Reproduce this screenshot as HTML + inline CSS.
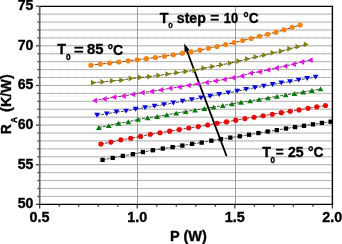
<!DOCTYPE html>
<html><head><meta charset="utf-8"><style>
html,body{margin:0;padding:0;background:#fff;}
body{width:342px;height:244px;position:relative;overflow:hidden;}
svg text{font-family:"Liberation Sans",sans-serif;font-weight:bold;}
</style></head><body>
<svg width="342" height="244" viewBox="0 0 342 244" style="position:absolute;left:0;top:0">
<g stroke="#d4d4d4" stroke-width="1"><line x1="39.70" y1="196.40" x2="332.39" y2="196.40"/><line x1="39.70" y1="188.47" x2="332.39" y2="188.47"/><line x1="39.70" y1="180.55" x2="332.39" y2="180.55"/><line x1="39.70" y1="172.62" x2="332.39" y2="172.62"/><line x1="39.70" y1="156.77" x2="332.39" y2="156.77"/><line x1="39.70" y1="148.85" x2="332.39" y2="148.85"/><line x1="39.70" y1="140.92" x2="332.39" y2="140.92"/><line x1="39.70" y1="133.00" x2="332.39" y2="133.00"/><line x1="39.70" y1="117.15" x2="332.39" y2="117.15"/><line x1="39.70" y1="109.22" x2="332.39" y2="109.22"/><line x1="39.70" y1="101.30" x2="332.39" y2="101.30"/><line x1="39.70" y1="93.38" x2="332.39" y2="93.38"/><line x1="39.70" y1="77.53" x2="332.39" y2="77.53"/><line x1="39.70" y1="69.60" x2="332.39" y2="69.60"/><line x1="39.70" y1="61.68" x2="332.39" y2="61.68"/><line x1="39.70" y1="53.75" x2="332.39" y2="53.75"/><line x1="39.70" y1="37.90" x2="332.39" y2="37.90"/><line x1="39.70" y1="29.97" x2="332.39" y2="29.97"/><line x1="39.70" y1="22.05" x2="332.39" y2="22.05"/><line x1="39.70" y1="14.12" x2="332.39" y2="14.12"/></g>
<g stroke="#989898" stroke-width="1" stroke-dasharray="1 1"><line x1="39.70" y1="196.40" x2="332.39" y2="196.40"/><line x1="39.70" y1="188.47" x2="332.39" y2="188.47"/><line x1="39.70" y1="180.55" x2="332.39" y2="180.55"/><line x1="39.70" y1="172.62" x2="332.39" y2="172.62"/><line x1="39.70" y1="156.77" x2="332.39" y2="156.77"/><line x1="39.70" y1="148.85" x2="332.39" y2="148.85"/><line x1="39.70" y1="140.92" x2="332.39" y2="140.92"/><line x1="39.70" y1="133.00" x2="332.39" y2="133.00"/><line x1="39.70" y1="117.15" x2="332.39" y2="117.15"/><line x1="39.70" y1="109.22" x2="332.39" y2="109.22"/><line x1="39.70" y1="101.30" x2="332.39" y2="101.30"/><line x1="39.70" y1="93.38" x2="332.39" y2="93.38"/><line x1="39.70" y1="77.53" x2="332.39" y2="77.53"/><line x1="39.70" y1="69.60" x2="332.39" y2="69.60"/><line x1="39.70" y1="61.68" x2="332.39" y2="61.68"/><line x1="39.70" y1="53.75" x2="332.39" y2="53.75"/><line x1="39.70" y1="37.90" x2="332.39" y2="37.90"/><line x1="39.70" y1="29.97" x2="332.39" y2="29.97"/><line x1="39.70" y1="22.05" x2="332.39" y2="22.05"/><line x1="39.70" y1="14.12" x2="332.39" y2="14.12"/></g>
<g stroke="#a8a8a8" stroke-width="1"><line x1="39.70" y1="164.70" x2="332.39" y2="164.70"/><line x1="39.70" y1="125.08" x2="332.39" y2="125.08"/><line x1="39.70" y1="85.45" x2="332.39" y2="85.45"/><line x1="39.70" y1="45.83" x2="332.39" y2="45.83"/></g>
<g stroke="#a0a0a0" stroke-width="1"><line x1="137.50" y1="6.35" x2="137.50" y2="204.40"/><line x1="235.50" y1="6.35" x2="235.50" y2="204.40"/></g>
<line x1="226.6" y1="156.1" x2="187.0" y2="51.0" stroke="#000" stroke-width="1.8"/>
<polygon points="184.2,43.6 189.6,50.0 184.6,52.2" fill="#000"/>
<path d="M90.86,65.21 L100.26,64.09 L109.60,63.01 L118.89,62.07 L128.11,60.85 L137.28,59.69 L146.39,58.63 L155.44,57.45 L164.43,56.20 L173.36,54.82 L182.23,53.27 L191.05,51.88 L199.80,50.16 L208.50,48.26 L217.13,46.45 L225.71,44.59 L234.23,42.57 L242.69,40.54 L251.09,38.46 L259.43,36.30 L267.71,34.25 L275.93,32.15 L284.10,29.84 L292.20,27.32 L300.25,25.04" fill="none" stroke="#333" stroke-width="0.9" stroke-dasharray="3 1"/>
<circle cx="90.86" cy="65.21" r="2.55" fill="#ff8000"/><circle cx="100.26" cy="64.09" r="2.55" fill="#ff8000"/><circle cx="109.60" cy="63.01" r="2.55" fill="#ff8000"/><circle cx="118.89" cy="62.07" r="2.55" fill="#ff8000"/><circle cx="128.11" cy="60.85" r="2.55" fill="#ff8000"/><circle cx="137.28" cy="59.69" r="2.55" fill="#ff8000"/><circle cx="146.39" cy="58.63" r="2.55" fill="#ff8000"/><circle cx="155.44" cy="57.45" r="2.55" fill="#ff8000"/><circle cx="164.43" cy="56.20" r="2.55" fill="#ff8000"/><circle cx="173.36" cy="54.82" r="2.55" fill="#ff8000"/><circle cx="182.23" cy="53.27" r="2.55" fill="#ff8000"/><circle cx="191.05" cy="51.88" r="2.55" fill="#ff8000"/><circle cx="199.80" cy="50.16" r="2.55" fill="#ff8000"/><circle cx="208.50" cy="48.26" r="2.55" fill="#ff8000"/><circle cx="217.13" cy="46.45" r="2.55" fill="#ff8000"/><circle cx="225.71" cy="44.59" r="2.55" fill="#ff8000"/><circle cx="234.23" cy="42.57" r="2.55" fill="#ff8000"/><circle cx="242.69" cy="40.54" r="2.55" fill="#ff8000"/><circle cx="251.09" cy="38.46" r="2.55" fill="#ff8000"/><circle cx="259.43" cy="36.30" r="2.55" fill="#ff8000"/><circle cx="267.71" cy="34.25" r="2.55" fill="#ff8000"/><circle cx="275.93" cy="32.15" r="2.55" fill="#ff8000"/><circle cx="284.10" cy="29.84" r="2.55" fill="#ff8000"/><circle cx="292.20" cy="27.32" r="2.55" fill="#ff8000"/><circle cx="300.25" cy="25.04" r="2.55" fill="#ff8000"/>
<path d="M93.44,82.67 L102.95,81.88 L112.40,80.85 L121.80,80.18 L131.14,78.49 L140.43,77.47 L149.66,76.65 L158.83,75.41 L167.95,74.09 L177.01,72.68 L186.02,71.51 L194.97,70.25 L203.87,68.16 L212.70,66.60 L221.49,64.82 L230.21,63.06 L238.88,61.08 L247.50,58.91 L256.06,56.96 L264.56,55.09 L273.01,52.82 L281.40,51.14 L289.74,48.76 L298.01,46.65 L306.24,44.42" fill="none" stroke="#333" stroke-width="0.9" stroke-dasharray="3 1"/>
<polygon points="95.89,82.67 90.99,79.77 90.99,85.57" fill="#808000"/><polygon points="105.40,81.88 100.50,78.98 100.50,84.78" fill="#808000"/><polygon points="114.85,80.85 109.95,77.95 109.95,83.75" fill="#808000"/><polygon points="124.25,80.18 119.35,77.28 119.35,83.08" fill="#808000"/><polygon points="133.59,78.49 128.69,75.59 128.69,81.39" fill="#808000"/><polygon points="142.88,77.47 137.98,74.57 137.98,80.37" fill="#808000"/><polygon points="152.11,76.65 147.21,73.75 147.21,79.55" fill="#808000"/><polygon points="161.28,75.41 156.38,72.51 156.38,78.31" fill="#808000"/><polygon points="170.40,74.09 165.50,71.19 165.50,76.99" fill="#808000"/><polygon points="179.46,72.68 174.56,69.78 174.56,75.58" fill="#808000"/><polygon points="188.47,71.51 183.57,68.61 183.57,74.41" fill="#808000"/><polygon points="197.42,70.25 192.52,67.35 192.52,73.15" fill="#808000"/><polygon points="206.32,68.16 201.42,65.26 201.42,71.06" fill="#808000"/><polygon points="215.15,66.60 210.25,63.70 210.25,69.50" fill="#808000"/><polygon points="223.94,64.82 219.04,61.92 219.04,67.72" fill="#808000"/><polygon points="232.66,63.06 227.76,60.16 227.76,65.96" fill="#808000"/><polygon points="241.33,61.08 236.43,58.18 236.43,63.98" fill="#808000"/><polygon points="249.95,58.91 245.05,56.01 245.05,61.81" fill="#808000"/><polygon points="258.51,56.96 253.61,54.06 253.61,59.86" fill="#808000"/><polygon points="267.01,55.09 262.11,52.19 262.11,57.99" fill="#808000"/><polygon points="275.46,52.82 270.56,49.92 270.56,55.72" fill="#808000"/><polygon points="283.85,51.14 278.95,48.24 278.95,54.04" fill="#808000"/><polygon points="292.19,48.76 287.29,45.86 287.29,51.66" fill="#808000"/><polygon points="300.46,46.65 295.56,43.75 295.56,49.55" fill="#808000"/><polygon points="308.69,44.42 303.79,41.52 303.79,47.32" fill="#808000"/>
<path d="M94.62,100.59 L104.23,98.95 L113.80,97.15 L123.30,96.01 L132.76,94.38 L142.15,92.64 L151.49,91.45 L160.78,89.91 L170.01,88.33 L179.18,87.03 L188.30,85.40 L197.37,83.80 L206.37,82.40 L215.33,80.96 L224.22,79.45 L233.07,77.77 L241.85,76.00 L250.58,73.15 L259.26,71.81 L267.88,69.95 L276.44,68.01 L284.95,66.14 L293.40,64.13 L301.80,61.99 L310.15,60.18" fill="none" stroke="#333" stroke-width="0.9" stroke-dasharray="3 1"/>
<polygon points="92.17,100.59 97.07,97.69 97.07,103.49" fill="#ff00ff"/><polygon points="101.78,98.95 106.68,96.05 106.68,101.85" fill="#ff00ff"/><polygon points="111.35,97.15 116.25,94.25 116.25,100.05" fill="#ff00ff"/><polygon points="120.85,96.01 125.75,93.11 125.75,98.91" fill="#ff00ff"/><polygon points="130.31,94.38 135.21,91.48 135.21,97.28" fill="#ff00ff"/><polygon points="139.70,92.64 144.60,89.74 144.60,95.54" fill="#ff00ff"/><polygon points="149.04,91.45 153.94,88.55 153.94,94.35" fill="#ff00ff"/><polygon points="158.33,89.91 163.23,87.01 163.23,92.81" fill="#ff00ff"/><polygon points="167.56,88.33 172.46,85.43 172.46,91.23" fill="#ff00ff"/><polygon points="176.73,87.03 181.63,84.13 181.63,89.93" fill="#ff00ff"/><polygon points="185.85,85.40 190.75,82.50 190.75,88.30" fill="#ff00ff"/><polygon points="194.92,83.80 199.82,80.90 199.82,86.70" fill="#ff00ff"/><polygon points="203.92,82.40 208.82,79.50 208.82,85.30" fill="#ff00ff"/><polygon points="212.88,80.96 217.78,78.06 217.78,83.86" fill="#ff00ff"/><polygon points="221.77,79.45 226.67,76.55 226.67,82.35" fill="#ff00ff"/><polygon points="230.62,77.77 235.52,74.87 235.52,80.67" fill="#ff00ff"/><polygon points="239.40,76.00 244.30,73.10 244.30,78.90" fill="#ff00ff"/><polygon points="248.13,73.15 253.03,70.25 253.03,76.05" fill="#ff00ff"/><polygon points="256.81,71.81 261.71,68.91 261.71,74.71" fill="#ff00ff"/><polygon points="265.43,69.95 270.33,67.05 270.33,72.85" fill="#ff00ff"/><polygon points="273.99,68.01 278.89,65.11 278.89,70.91" fill="#ff00ff"/><polygon points="282.50,66.14 287.40,63.24 287.40,69.04" fill="#ff00ff"/><polygon points="290.95,64.13 295.85,61.23 295.85,67.03" fill="#ff00ff"/><polygon points="299.35,61.99 304.25,59.09 304.25,64.89" fill="#ff00ff"/><polygon points="307.70,60.18 312.60,57.28 312.60,63.08" fill="#ff00ff"/>
<path d="M97.09,115.26 L106.80,113.84 L116.46,112.02 L126.07,111.09 L135.63,109.22 L145.13,107.62 L154.58,106.15 L163.97,104.60 L173.32,103.03 L182.61,101.30 L191.84,99.63 L201.03,98.01 L210.16,96.29 L219.24,94.54 L228.27,92.86 L237.24,91.14 L246.17,89.33 L255.03,87.69 L263.85,86.28 L272.62,84.46 L281.33,82.87 L289.98,81.65 L298.59,80.10 L307.14,78.46 L315.64,77.16" fill="none" stroke="#333" stroke-width="0.9" stroke-dasharray="3 1"/>
<polygon points="97.09,117.71 99.99,112.81 94.19,112.81" fill="#0000ff"/><polygon points="106.80,116.29 109.70,111.39 103.90,111.39" fill="#0000ff"/><polygon points="116.46,114.47 119.36,109.57 113.56,109.57" fill="#0000ff"/><polygon points="126.07,113.54 128.97,108.64 123.17,108.64" fill="#0000ff"/><polygon points="135.63,111.67 138.53,106.77 132.73,106.77" fill="#0000ff"/><polygon points="145.13,110.07 148.03,105.17 142.23,105.17" fill="#0000ff"/><polygon points="154.58,108.60 157.48,103.70 151.68,103.70" fill="#0000ff"/><polygon points="163.97,107.05 166.87,102.15 161.07,102.15" fill="#0000ff"/><polygon points="173.32,105.48 176.22,100.58 170.42,100.58" fill="#0000ff"/><polygon points="182.61,103.75 185.51,98.85 179.71,98.85" fill="#0000ff"/><polygon points="191.84,102.08 194.74,97.18 188.94,97.18" fill="#0000ff"/><polygon points="201.03,100.46 203.93,95.56 198.13,95.56" fill="#0000ff"/><polygon points="210.16,98.74 213.06,93.84 207.26,93.84" fill="#0000ff"/><polygon points="219.24,96.99 222.14,92.09 216.34,92.09" fill="#0000ff"/><polygon points="228.27,95.31 231.17,90.41 225.37,90.41" fill="#0000ff"/><polygon points="237.24,93.59 240.14,88.69 234.34,88.69" fill="#0000ff"/><polygon points="246.17,91.78 249.07,86.88 243.27,86.88" fill="#0000ff"/><polygon points="255.03,90.14 257.93,85.24 252.13,85.24" fill="#0000ff"/><polygon points="263.85,88.73 266.75,83.83 260.95,83.83" fill="#0000ff"/><polygon points="272.62,86.91 275.52,82.01 269.72,82.01" fill="#0000ff"/><polygon points="281.33,85.32 284.23,80.42 278.43,80.42" fill="#0000ff"/><polygon points="289.98,84.10 292.88,79.20 287.08,79.20" fill="#0000ff"/><polygon points="298.59,82.55 301.49,77.65 295.69,77.65" fill="#0000ff"/><polygon points="307.14,80.91 310.04,76.01 304.24,76.01" fill="#0000ff"/><polygon points="315.64,79.61 318.54,74.71 312.74,74.71" fill="#0000ff"/>
<path d="M98.90,127.50 L108.76,125.65 L118.56,123.18 L128.31,121.80 L138.00,119.42 L147.64,117.80 L157.22,116.49 L166.75,114.78 L176.23,113.11 L185.65,111.59 L195.02,110.04 L204.33,108.55 L213.59,107.14 L222.80,105.54 L231.95,103.91 L241.05,102.32 L250.09,100.90 L259.08,99.33 L268.02,97.90 L276.90,96.34 L285.73,94.88 L294.50,93.44 L303.22,91.97 L311.89,90.51 L320.50,88.92" fill="none" stroke="#333" stroke-width="0.9" stroke-dasharray="3 1"/>
<polygon points="98.90,125.05 101.80,129.95 96.00,129.95" fill="#008000"/><polygon points="108.76,123.20 111.66,128.10 105.86,128.10" fill="#008000"/><polygon points="118.56,120.73 121.46,125.63 115.66,125.63" fill="#008000"/><polygon points="128.31,119.35 131.21,124.25 125.41,124.25" fill="#008000"/><polygon points="138.00,116.97 140.90,121.87 135.10,121.87" fill="#008000"/><polygon points="147.64,115.35 150.54,120.25 144.74,120.25" fill="#008000"/><polygon points="157.22,114.04 160.12,118.94 154.32,118.94" fill="#008000"/><polygon points="166.75,112.33 169.65,117.23 163.85,117.23" fill="#008000"/><polygon points="176.23,110.66 179.13,115.56 173.33,115.56" fill="#008000"/><polygon points="185.65,109.14 188.55,114.04 182.75,114.04" fill="#008000"/><polygon points="195.02,107.59 197.92,112.49 192.12,112.49" fill="#008000"/><polygon points="204.33,106.10 207.23,111.00 201.43,111.00" fill="#008000"/><polygon points="213.59,104.69 216.49,109.59 210.69,109.59" fill="#008000"/><polygon points="222.80,103.09 225.70,107.99 219.90,107.99" fill="#008000"/><polygon points="231.95,101.46 234.85,106.36 229.05,106.36" fill="#008000"/><polygon points="241.05,99.87 243.95,104.77 238.15,104.77" fill="#008000"/><polygon points="250.09,98.45 252.99,103.35 247.19,103.35" fill="#008000"/><polygon points="259.08,96.88 261.98,101.78 256.18,101.78" fill="#008000"/><polygon points="268.02,95.45 270.92,100.35 265.12,100.35" fill="#008000"/><polygon points="276.90,93.89 279.80,98.79 274.00,98.79" fill="#008000"/><polygon points="285.73,92.43 288.63,97.33 282.83,97.33" fill="#008000"/><polygon points="294.50,90.99 297.40,95.89 291.60,95.89" fill="#008000"/><polygon points="303.22,89.52 306.12,94.42 300.32,94.42" fill="#008000"/><polygon points="311.89,88.06 314.79,92.96 308.99,92.96" fill="#008000"/><polygon points="320.50,86.47 323.40,91.37 317.60,91.37" fill="#008000"/>
<path d="M100.93,144.06 L110.91,142.09 L120.84,139.84 L130.71,138.26 L140.53,136.41 L150.29,134.31 L160.00,132.71 L169.66,131.15 L179.26,129.62 L188.80,128.06 L198.30,126.59 L207.73,125.04 L217.12,123.29 L226.45,121.88 L235.72,120.17 L244.95,118.61 L254.11,117.25 L263.23,115.73 L272.29,114.18 L281.29,112.63 L290.24,111.31 L299.14,109.89 L307.98,108.35 L316.77,106.91 L325.51,105.57" fill="none" stroke="#333" stroke-width="0.9" stroke-dasharray="3 1"/>
<circle cx="100.93" cy="144.06" r="2.55" fill="#ff0000"/><circle cx="110.91" cy="142.09" r="2.55" fill="#ff0000"/><circle cx="120.84" cy="139.84" r="2.55" fill="#ff0000"/><circle cx="130.71" cy="138.26" r="2.55" fill="#ff0000"/><circle cx="140.53" cy="136.41" r="2.55" fill="#ff0000"/><circle cx="150.29" cy="134.31" r="2.55" fill="#ff0000"/><circle cx="160.00" cy="132.71" r="2.55" fill="#ff0000"/><circle cx="169.66" cy="131.15" r="2.55" fill="#ff0000"/><circle cx="179.26" cy="129.62" r="2.55" fill="#ff0000"/><circle cx="188.80" cy="128.06" r="2.55" fill="#ff0000"/><circle cx="198.30" cy="126.59" r="2.55" fill="#ff0000"/><circle cx="207.73" cy="125.04" r="2.55" fill="#ff0000"/><circle cx="217.12" cy="123.29" r="2.55" fill="#ff0000"/><circle cx="226.45" cy="121.88" r="2.55" fill="#ff0000"/><circle cx="235.72" cy="120.17" r="2.55" fill="#ff0000"/><circle cx="244.95" cy="118.61" r="2.55" fill="#ff0000"/><circle cx="254.11" cy="117.25" r="2.55" fill="#ff0000"/><circle cx="263.23" cy="115.73" r="2.55" fill="#ff0000"/><circle cx="272.29" cy="114.18" r="2.55" fill="#ff0000"/><circle cx="281.29" cy="112.63" r="2.55" fill="#ff0000"/><circle cx="290.24" cy="111.31" r="2.55" fill="#ff0000"/><circle cx="299.14" cy="109.89" r="2.55" fill="#ff0000"/><circle cx="307.98" cy="108.35" r="2.55" fill="#ff0000"/><circle cx="316.77" cy="106.91" r="2.55" fill="#ff0000"/><circle cx="325.51" cy="105.57" r="2.55" fill="#ff0000"/>
<path d="M102.56,159.87 L112.74,157.90 L122.87,155.85 L132.93,154.13 L142.94,152.08 L152.89,150.23 L162.78,148.56 L172.61,147.11 L182.38,145.57 L192.09,143.86 L201.74,142.61 L211.34,140.70 L220.87,139.10 L230.35,137.64 L239.77,136.29 L249.12,134.75 L258.42,133.05 L267.66,131.51 L276.85,130.13 L285.97,128.52 L295.03,127.10 L304.04,125.77 L312.98,124.33 L321.87,122.92 L330.70,121.73" fill="none" stroke="#333" stroke-width="0.9" stroke-dasharray="3 1"/>
<rect x="100.41" y="157.72" width="4.3" height="4.3" fill="#000000"/><rect x="110.59" y="155.75" width="4.3" height="4.3" fill="#000000"/><rect x="120.72" y="153.70" width="4.3" height="4.3" fill="#000000"/><rect x="130.78" y="151.98" width="4.3" height="4.3" fill="#000000"/><rect x="140.79" y="149.93" width="4.3" height="4.3" fill="#000000"/><rect x="150.74" y="148.08" width="4.3" height="4.3" fill="#000000"/><rect x="160.63" y="146.41" width="4.3" height="4.3" fill="#000000"/><rect x="170.46" y="144.96" width="4.3" height="4.3" fill="#000000"/><rect x="180.23" y="143.42" width="4.3" height="4.3" fill="#000000"/><rect x="189.94" y="141.71" width="4.3" height="4.3" fill="#000000"/><rect x="199.59" y="140.46" width="4.3" height="4.3" fill="#000000"/><rect x="209.19" y="138.55" width="4.3" height="4.3" fill="#000000"/><rect x="218.72" y="136.95" width="4.3" height="4.3" fill="#000000"/><rect x="228.20" y="135.49" width="4.3" height="4.3" fill="#000000"/><rect x="237.62" y="134.14" width="4.3" height="4.3" fill="#000000"/><rect x="246.97" y="132.60" width="4.3" height="4.3" fill="#000000"/><rect x="256.27" y="130.90" width="4.3" height="4.3" fill="#000000"/><rect x="265.51" y="129.36" width="4.3" height="4.3" fill="#000000"/><rect x="274.70" y="127.98" width="4.3" height="4.3" fill="#000000"/><rect x="283.82" y="126.37" width="4.3" height="4.3" fill="#000000"/><rect x="292.88" y="124.95" width="4.3" height="4.3" fill="#000000"/><rect x="301.89" y="123.62" width="4.3" height="4.3" fill="#000000"/><rect x="310.83" y="122.18" width="4.3" height="4.3" fill="#000000"/><rect x="319.72" y="120.77" width="4.3" height="4.3" fill="#000000"/><rect x="328.55" y="119.58" width="4.3" height="4.3" fill="#000000"/>
<g stroke="#333" stroke-width="1.2"><line x1="35.90" y1="204.32" x2="39.70" y2="204.32"/><line x1="37.40" y1="196.40" x2="39.70" y2="196.40"/><line x1="37.40" y1="188.47" x2="39.70" y2="188.47"/><line x1="37.40" y1="180.55" x2="39.70" y2="180.55"/><line x1="37.40" y1="172.62" x2="39.70" y2="172.62"/><line x1="35.90" y1="164.70" x2="39.70" y2="164.70"/><line x1="37.40" y1="156.77" x2="39.70" y2="156.77"/><line x1="37.40" y1="148.85" x2="39.70" y2="148.85"/><line x1="37.40" y1="140.92" x2="39.70" y2="140.92"/><line x1="37.40" y1="133.00" x2="39.70" y2="133.00"/><line x1="35.90" y1="125.08" x2="39.70" y2="125.08"/><line x1="37.40" y1="117.15" x2="39.70" y2="117.15"/><line x1="37.40" y1="109.22" x2="39.70" y2="109.22"/><line x1="37.40" y1="101.30" x2="39.70" y2="101.30"/><line x1="37.40" y1="93.38" x2="39.70" y2="93.38"/><line x1="35.90" y1="85.45" x2="39.70" y2="85.45"/><line x1="37.40" y1="77.53" x2="39.70" y2="77.53"/><line x1="37.40" y1="69.60" x2="39.70" y2="69.60"/><line x1="37.40" y1="61.68" x2="39.70" y2="61.68"/><line x1="37.40" y1="53.75" x2="39.70" y2="53.75"/><line x1="35.90" y1="45.83" x2="39.70" y2="45.83"/><line x1="37.40" y1="37.90" x2="39.70" y2="37.90"/><line x1="37.40" y1="29.97" x2="39.70" y2="29.97"/><line x1="37.40" y1="22.05" x2="39.70" y2="22.05"/><line x1="37.40" y1="14.12" x2="39.70" y2="14.12"/><line x1="35.90" y1="6.20" x2="39.70" y2="6.20"/><line x1="39.70" y1="204.40" x2="39.70" y2="208.60"/><line x1="59.21" y1="204.40" x2="59.21" y2="206.80"/><line x1="78.73" y1="204.40" x2="78.73" y2="206.80"/><line x1="98.24" y1="204.40" x2="98.24" y2="206.80"/><line x1="117.75" y1="204.40" x2="117.75" y2="206.80"/><line x1="137.26" y1="204.40" x2="137.26" y2="208.60"/><line x1="156.78" y1="204.40" x2="156.78" y2="206.80"/><line x1="176.29" y1="204.40" x2="176.29" y2="206.80"/><line x1="195.80" y1="204.40" x2="195.80" y2="206.80"/><line x1="215.32" y1="204.40" x2="215.32" y2="206.80"/><line x1="234.83" y1="204.40" x2="234.83" y2="208.60"/><line x1="254.34" y1="204.40" x2="254.34" y2="206.80"/><line x1="273.86" y1="204.40" x2="273.86" y2="206.80"/><line x1="293.37" y1="204.40" x2="293.37" y2="206.80"/><line x1="312.88" y1="204.40" x2="312.88" y2="206.80"/><line x1="332.39" y1="204.40" x2="332.39" y2="208.60"/></g>
<line x1="39.70" y1="6.35" x2="39.70" y2="204.40" stroke="#626262" stroke-width="1.7"/><line x1="38.80" y1="204.40" x2="333.19" y2="204.40" stroke="#000" stroke-width="1.4"/><line x1="39.70" y1="6.35" x2="333.19" y2="6.35" stroke="#000" stroke-width="1.3"/><line x1="332.39" y1="6.35" x2="332.39" y2="204.40" stroke="#000" stroke-width="1.4"/>
</svg>
<svg width="342" height="244" style="position:absolute;left:0;top:0;will-change:transform" fill="#000" stroke="#000" stroke-width="0.35"><text x="33.4" y="208.22" font-size="14.1" text-anchor="end">50</text><text x="33.4" y="168.60" font-size="14.1" text-anchor="end">55</text><text x="33.4" y="128.97" font-size="14.1" text-anchor="end">60</text><text x="33.4" y="89.35" font-size="14.1" text-anchor="end">65</text><text x="33.4" y="49.73" font-size="14.1" text-anchor="end">70</text><text x="33.4" y="10.10" font-size="14.1" text-anchor="end">75</text><text x="39.60" y="222.0" font-size="14.4" text-anchor="middle">0.5</text><text x="137.16" y="222.0" font-size="14.4" text-anchor="middle">1.0</text><text x="234.73" y="222.0" font-size="14.4" text-anchor="middle">1.5</text><text x="332.29" y="222.0" font-size="14.4" text-anchor="middle">2.0</text><text transform="translate(170.03,240.90) scale(1.011,1)" font-size="14.4">P (W)</text><text x="159.64" y="22.50" font-size="14.2">T</text><text x="168.28" y="28.10" font-size="8.0">0</text><text transform="translate(176.80,22.50) scale(1.007,1)" font-size="14.0">step</text><text transform="translate(210.36,21.90) scale(1.181,1)" font-size="13.0">=</text><text transform="translate(223.78,22.90) scale(0.896,1)" font-size="14.5">10</text><text transform="translate(243.20,22.90) scale(0.952,1)" font-size="14.3">°C</text><text x="57.14" y="53.80" font-size="14.3">T</text><text x="65.97" y="60.20" font-size="8.3">0</text><text transform="translate(74.11,53.50) scale(1.273,1)" font-size="13.0">=</text><text transform="translate(86.93,54.20) scale(1.022,1)" font-size="14.5">85</text><text transform="translate(107.38,54.50) scale(0.971,1)" font-size="14.5">°C</text><text x="262.24" y="156.60" font-size="14.3">T</text><text x="270.58" y="162.50" font-size="8.2">0</text><text transform="translate(275.74,156.30) scale(1.043,1)" font-size="13.0">=</text><text transform="translate(288.01,156.60) scale(0.972,1)" font-size="14.5">25</text><text transform="translate(307.99,156.90) scale(0.952,1)" font-size="14.5">°C</text><text transform="rotate(-90) translate(-134.24,10.90) scale(1.000,1)" font-size="14.0">R</text><text transform="rotate(-90) translate(-123.11,16.70) scale(0.888,1)" font-size="9.4">A</text><text transform="rotate(-90) translate(-111.92,10.80) scale(1.018,1)" font-size="14.2">(K/W)</text></svg>
</body></html>
